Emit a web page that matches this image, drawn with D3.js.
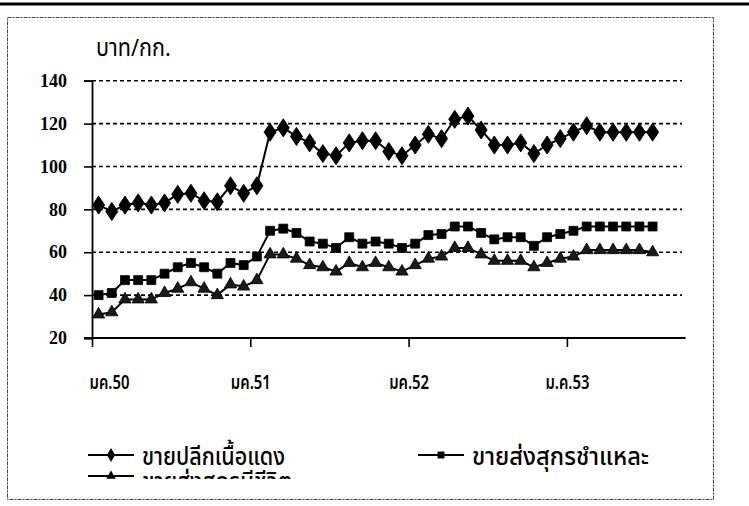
<!DOCTYPE html>
<html>
<head>
<meta charset="utf-8">
<script src="https://cdn.jsdelivr.net/npm/d3@7/dist/d3.min.js"></script>
<style>
  body { margin: 0; background: #fff; }
  svg { display: block; }
  .th { font-family: "Noto Sans Thai", "Loma", "Garuda", "Norasi", "Noto Sans", sans-serif; }
  .num { font-family: "Liberation Serif", "Times New Roman", serif; font-weight: bold; }
</style>
</head>
<body>
<svg id="chart" width="749" height="506"></svg>
<script>
// 45 monthly slots, Jan 2550 .. Sep 2553 (data ends Jul 2553)
var months = d3.range(45)
var tickMonths = [0, 12, 24, 36]
var tickLabels = ['มค.50', 'มค.51', 'มค.52', 'ม.ค.53']
var yTicks = [20, 40, 60, 80, 100, 120, 140]

var retail = [82, 79, 82, 83, 82, 83, 87, 87.5, 84, 83.5, 91, 87.5, 91,
              116, 118, 114, 111, 106, 105, 111, 112, 112, 107, 105, 110, 115, 113, 122, 123.5, 117, 110,
              110, 111, 106, 110, 113, 116, 119, 116, 116, 116, 116, 116]
var wholesale = [40, 41, 47, 47, 47, 50, 53, 55, 53, 50, 55, 54, 58,
                 70, 71, 69, 65, 64, 62, 67, 64, 65, 64, 62, 64, 68, 68.5, 72, 72, 69, 66,
                 67, 67, 63, 67, 68.5, 70, 72, 72, 72, 72, 72, 72]
var live = [31, 32, 38, 38, 38, 41, 43, 46, 43, 40, 45, 44, 47,
            59, 59, 57, 54, 53, 51, 55, 53, 55, 53, 51, 54, 57, 58, 62, 62, 59, 56,
            56, 56, 53, 55, 57, 58, 61, 61, 61, 61, 61, 60]

var svg = d3.select('#chart')

// squeeze a text to a narrower width (the scan uses a tall condensed Thai face)
function squeeze(sel, factor){
  sel.each(function(){
    var w = this.getComputedTextLength()
    d3.select(this).attr('textLength', w * factor).attr('lengthAdjust', 'spacingAndGlyphs')
  })
}

// scan artefact bar across the top + dashed frame
svg.append('line').attr('x1', 0).attr('x2', 749).attr('y1', 4).attr('y2', 4)
    .attr('stroke', '#000').attr('stroke-width', 3)
svg.append('rect').attr('x', 7.5).attr('y', 17.5).attr('width', 706).attr('height', 482)
    .attr('fill', 'none').attr('stroke', '#444').attr('stroke-width', 1)
    .attr('stroke-dasharray', '4,1,2,1')

var pLeft = 92, pRight = 685.6, pTop = 80.7, pBottom = 338

var x = d3.scaleBand().domain(months).range([pLeft, pRight]).padding(0)
var y = d3.scaleLinear().domain([20, 140]).range([pBottom, pTop])
var cx = function(i){ return x(i) + x.bandwidth() / 2 }

// gridlines
svg.append('g').selectAll('line').data(yTicks.slice(1)).enter().append('line')
    .attr('x1', pLeft).attr('x2', 682)
    .attr('y1', function(d){ return y(d) }).attr('y2', function(d){ return y(d) })
    .attr('stroke', '#000').attr('stroke-width', 1.6).attr('stroke-dasharray', '4,3')

// y axis
var yAxis = d3.axisLeft(y).tickValues(yTicks).tickSize(8).tickPadding(17)
var gy = svg.append('g').attr('transform', 'translate(' + pLeft + ',0)').call(yAxis)
gy.select('.domain').attr('stroke-width', 1.8)
gy.selectAll('.tick line').attr('stroke-width', 1.6)
gy.selectAll('text').attr('class', 'num').attr('font-size', 18).attr('fill', '#000')

// x axis
var xAxis = d3.axisBottom(d3.scaleLinear().domain([0, 45]).range([pLeft, pRight]))
    .tickValues(tickMonths).tickSize(9).tickFormat(function(d, i){ return tickLabels[i] })
    .tickPadding(29)
var gx = svg.append('g').attr('transform', 'translate(0,' + pBottom + ')').call(xAxis)
gx.select('.domain').attr('stroke-width', 2).attr('d', 'M' + (pLeft - 8) + ',0H' + pRight)
gx.selectAll('.tick line').attr('stroke-width', 1.6)
gx.selectAll('text').attr('class', 'th').attr('font-size', 19).attr('fill', '#000')
    .attr('font-weight', 600)
    .attr('text-anchor', function(d){ return d === 0 ? 'start' : 'middle' })
    .attr('dx', function(d){ return d === 0 ? -3 : 0 })
squeeze(gx.selectAll('text'), 0.78)

// title
var title = svg.append('text').attr('class', 'th').attr('x', 96).attr('y', 56)
    .attr('font-size', 24).text('บาท/กก.')
squeeze(title, 0.9)

var line = d3.line().x(function(d, i){ return cx(i) }).y(function(d){ return y(d) })

var series = [
  { values: retail, shape: d3.symbolDiamond, size: 95, fill: '#000' },
  { values: wholesale, shape: d3.symbolSquare, size: 80, fill: '#000' },
  { values: live, shape: d3.symbolTriangle, size: 65, fill: '#1a1a1a' }
]

series.forEach(function(s){
  svg.append('path').datum(s.values).attr('d', line)
      .attr('fill', 'none').attr('stroke', '#000').attr('stroke-width', 2)
  svg.append('g').selectAll('path').data(s.values).enter().append('path')
      .attr('d', d3.symbol().type(s.shape).size(s.size))
      .attr('transform', function(d, i){
        var sy = s.shape === d3.symbolDiamond ? ' scale(1.15,1)' : ''
        return 'translate(' + cx(i) + ',' + y(d) + ')' + sy })
      .attr('fill', s.fill).attr('stroke', '#000').attr('stroke-width', 0.8)
})

// legend (third row is cut off by the box in the original)
var legend = [
  { label: 'ขายปลีกเนื้อแดง', s: series[0], x: 88, y: 455, ty: 10, w: 143 },
  { label: 'ขายส่งสุกรชำแหละ', s: series[1], x: 418, y: 455, ty: 10, w: 177 },
  { label: 'ขายส่งสุกรมีชีวิต', s: series[2], x: 88, y: 476, ty: 14, w: 150 }
]
svg.append('clipPath').attr('id', 'lgclip').append('rect')
    .attr('x', 0).attr('y', 0).attr('width', 749).attr('height', 479)
var lg = svg.append('g').attr('clip-path', 'url(#lgclip)')
legend.forEach(function(l){
  var g = lg.append('g').attr('transform', 'translate(' + l.x + ',' + l.y + ')')
  g.append('line').attr('x1', 0).attr('x2', 46).attr('stroke', '#000').attr('stroke-width', 2)
  g.append('path').attr('d', d3.symbol().type(l.s.shape).size(l.s.size * 0.6))
      .attr('transform', 'translate(23,0)').attr('fill', '#000')
  g.append('text').attr('class', 'th').attr('x', 54).attr('y', l.ty)
      .attr('font-size', 25).attr('font-weight', 500)
      .attr('textLength', l.w).attr('lengthAdjust', 'spacingAndGlyphs').text(l.label)
})
</script>
</body>
</html>
